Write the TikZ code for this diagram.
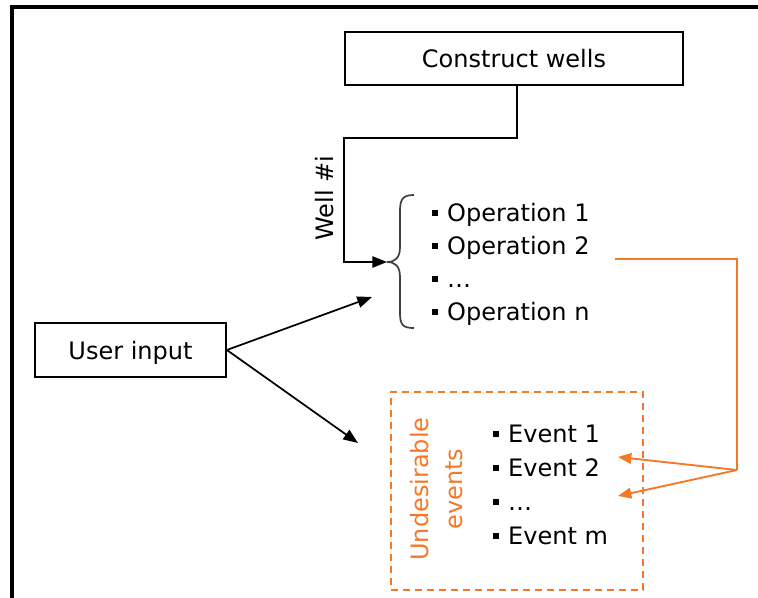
\documentclass[tikz,border=0pt]{standalone}
\usepackage{fontspec}
\setmainfont{DejaVu Sans}
\usetikzlibrary{arrows.meta}
\definecolor{evorange}{RGB}{245,120,40}
% small square bullet in front of a list item
\newcommand{\sqbul}{\rule[0.25em]{4.2pt}{4.2pt}\hspace{7pt}}
\tikzset{
  box/.style={draw,line width=1.3pt,inner sep=0pt,text depth=0pt},
  item/.style={anchor=base west,inner sep=0pt},
  arr/.style={-{Triangle[length=11pt,width=8.5pt]},line width=1.3pt},
  orline/.style={draw=evorange,line width=1.4pt},
  orarr/.style={orline,-{Triangle[length=10pt,width=8pt]}},
}
\begin{document}
\begin{tikzpicture}[x=0.75pt,y=-0.75pt,font=\fontsize{18}{22}\selectfont]
\useasboundingbox (0,0) rectangle (758,598);
% frame (top and left only)
\draw[line width=2.5pt] (12,598) -- (12,7) -- (758,7);
% boxes
\node[box,minimum width=253.5pt,minimum height=39.75pt] (wells) at (514,58.5) {Construct wells};
\node[box,minimum width=143.25pt,minimum height=40.5pt] (user) at (130.5,350) {User input};
\node[draw=evorange,line width=1.4pt,dash pattern=on 5.5pt off 3.5pt,
      minimum width=189pt,minimum height=148.5pt] (evbox) at (517,491) {};
% free ends
\coordinate (bend) at (344,138);
\coordinate (optip) at (387,262);
\coordinate (optop) at (372,297);
\coordinate (evtop) at (358,443);
\coordinate (opout) at (615,259);
\coordinate (fork) at (737,470);
\coordinate (ev2in) at (618,457);
\coordinate (ev3in) at (618,496);
% operations
\foreach \t [count=\i] in {Operation 1,Operation 2,\ldots,Operation n}
  \node[item] (op\i) at (432,{222+33*(\i-1)}) {\sqbul\t};
% events
\foreach \t [count=\i] in {Event 1,Event 2,\ldots,Event m}
  \node[item] (ev\i) at (493,{443+34*(\i-1)}) {\sqbul\t};
\node[rotate=90,align=center,text=evorange,inner sep=0pt,
      font=\fontsize{18}{26}\selectfont] (undes) at (436.4,489) {Undesirable\\events};
% brace round the operations
\draw[black!75,line width=1.3pt] (414,195) .. controls (403,195) and (400,199) .. (400,211)
  -- (400,247) .. controls (400,258) and (395,262) .. (optip)
  .. controls (395,262) and (400,266) .. (400,277)
  -- (400,313) .. controls (400,325) and (403,328) .. (414,328);
% connectors
\draw[arr] ([xshift=2.25pt]wells.south) |- (bend) |- (optip);
\node[rotate=90,anchor=base,inner sep=0pt] (welli) at (333,198) {Well \#i};
\draw[arr] (user.east) -- (optop);
\draw[arr] (user.east) -- (evtop);
\draw[orline] (opout) -| (fork);
\draw[orarr] (fork) -- (ev2in);
\draw[orarr] (fork) -- (ev3in);
\end{tikzpicture}
\end{document}
